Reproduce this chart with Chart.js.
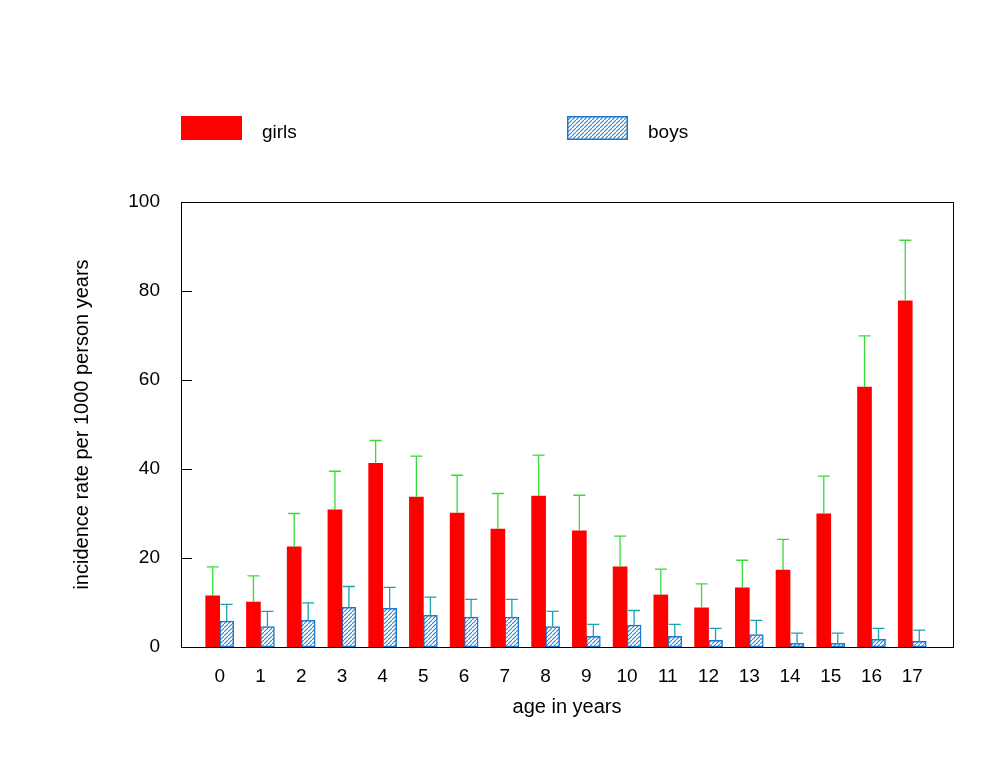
<!DOCTYPE html>
<html>
<head>
<meta charset="utf-8">
<script src="https://cdn.jsdelivr.net/npm/chart.js@4/dist/chart.umd.min.js"></script>
<style>
    html, body { margin: 0; padding: 0; background: #ffffff; }
    #wrap { width: 997px; height: 768px; }
</style>
</head>
<body>
<div id="wrap"><canvas id="js-incidence-chart" width="997" height="768"></canvas></div>
<script>
// age categories and incidence rates (per 1000 person years)
var ages = [0, 1, 2, 3, 4, 5, 6, 7, 8, 9, 10, 11, 12, 13, 14, 15, 16, 17];
var girlsRate = [11.5, 10.1, 22.5, 30.8, 41.3, 33.7, 30.1, 26.5, 33.9, 26.1, 18.0, 11.7, 8.8, 13.3, 17.3, 29.9, 58.4, 77.8];
var girlsUpper = [18.0, 16.0, 30.0, 39.5, 46.4, 42.9, 38.6, 34.5, 43.1, 34.1, 24.9, 17.5, 14.2, 19.5, 24.2, 38.4, 69.9, 91.4];
var boysRate = [5.8, 4.6, 6.0, 8.9, 8.7, 7.1, 6.7, 6.7, 4.6, 2.4, 4.9, 2.4, 1.5, 2.8, 0.8, 0.8, 1.7, 1.3];
var boysUpper = [9.6, 8.0, 9.9, 13.6, 13.4, 11.2, 10.7, 10.7, 8.0, 5.1, 8.2, 5.1, 4.2, 6.0, 3.1, 3.1, 4.2, 3.8];
var yTicks = [0, 20, 40, 60, 80, 100];

var FONT = "'Liberation Sans', Arial, sans-serif";

// diagonal hatch for the boys bars
function makeHatch() {
    var c = document.createElement("canvas");
    c.width = 4;
    c.height = 4;
    var g = c.getContext("2d");
    g.fillStyle = "#ffffff";
    g.fillRect(0, 0, 4, 4);
    g.strokeStyle = "#2a84d6";
    g.lineWidth = 1.1;
    g.beginPath();
    g.moveTo(-1, 5);
    g.lineTo(5, -1);
    g.stroke();
    return g.createPattern(c, "repeat");
}
var hatch = makeHatch();

function toPoints(values) {
    return ages.map(function (a, i) { return { x: a, y: values[i] }; });
}

// upper error bars, frame, inside ticks and the legend
var extrasPlugin = {
    id: "extras",
    afterDatasetsDraw: function (chart) {
        var ctx = chart.ctx;
        var yScale = chart.scales.y;
        chart.data.datasets.forEach(function (ds, di) {
            var meta = chart.getDatasetMeta(di);
            ctx.save();
            ctx.strokeStyle = ds.errorColor;
            ctx.lineWidth = 1.3;
            meta.data.forEach(function (bar, i) {
                var yTop = yScale.getPixelForValue(ds.errorUpper[i]);
                ctx.beginPath();
                ctx.moveTo(bar.x, bar.y);
                ctx.lineTo(bar.x, yTop);
                ctx.moveTo(bar.x - 6, yTop);
                ctx.lineTo(bar.x + 6, yTop);
                ctx.stroke();
            });
            ctx.restore();
        });
    },
    afterDraw: function (chart) {
        var ctx = chart.ctx;
        var area = chart.chartArea;
        var yScale = chart.scales.y;
        ctx.save();
        ctx.strokeStyle = "#000000";
        ctx.lineWidth = 1;
        ctx.strokeRect(area.left + 0.5, area.top + 0.5, area.right - area.left, area.bottom - area.top);
        ctx.beginPath();
        yTicks.forEach(function (v) {
            var py = Math.round(yScale.getPixelForValue(v)) + 0.5;
            ctx.moveTo(area.left, py);
            ctx.lineTo(area.left + 11, py);
        });
        ctx.stroke();

        // legend
        var spots = [181, 567];
        ctx.font = "19px " + FONT;
        ctx.textBaseline = "middle";
        ctx.textAlign = "left";
        chart.data.datasets.forEach(function (ds, di) {
            var x = spots[di];
            ctx.fillStyle = ds.backgroundColor;
            ctx.fillRect(x, 116, 61, 24);
            if (ds.borderWidth) {
                ctx.strokeStyle = ds.borderColor;
                ctx.lineWidth = 1.5;
                ctx.strokeRect(x + 0.75, 116.75, 59.5, 22.5);
            }
            ctx.fillStyle = "#000000";
            ctx.fillText(ds.label, x + 81, 133);
        });
        ctx.restore();
    }
};

var chartCanvas = document.getElementById("js-incidence-chart");
var chart = new Chart(chartCanvas, {
    type: "bar",
    data: {
        datasets: [{
            label: "girls",
            data: toPoints(girlsRate),
            errorUpper: girlsUpper,
            errorColor: "#3ad93a",
            backgroundColor: "#ff0000",
            borderWidth: 0,
            barThickness: 14
        }, {
            label: "boys",
            data: toPoints(boysRate),
            errorUpper: boysUpper,
            errorColor: "#1aa3b3",
            backgroundColor: hatch,
            borderColor: "#1b78d0",
            borderWidth: 1.5,
            borderSkipped: false,
            barThickness: 14
        }]
    },
    options: {
        responsive: false,
        animation: false,
        layout: {
            padding: { left: 60, top: 202, right: 44, bottom: 0 }
        },
        plugins: {
            legend: { display: false },
            tooltip: { enabled: false }
        },
        scales: {
            x: {
                type: "linear",
                offset: false,
                min: -0.95,
                max: 18,
                afterBuildTicks: function (scale) {
                    scale.ticks = ages.map(function (a) { return { value: a }; });
                },
                afterFit: function (scale) { scale.height = 121; },
                grid: { display: false, drawTicks: false, offset: false },
                border: { display: false },
                ticks: {
                    padding: 18,
                    color: "#000000",
                    font: { family: FONT, size: 19 },
                    maxRotation: 0,
                    autoSkip: false
                },
                title: {
                    display: true,
                    text: "age in years",
                    color: "#000000",
                    font: { family: FONT, size: 20 },
                    padding: { top: 0, bottom: 49 }
                }
            },
            y: {
                min: 0,
                max: 100,
                afterBuildTicks: function (scale) {
                    scale.ticks = yTicks.map(function (v) { return { value: v }; });
                },
                afterFit: function (scale) { scale.width = 121; },
                grid: { display: false, drawTicks: false },
                border: { display: false },
                ticks: {
                    padding: 21,
                    color: "#000000",
                    font: { family: FONT, size: 19 }
                },
                title: {
                    display: true,
                    text: "incidence rate per 1000 person years",
                    color: "#000000",
                    font: { family: FONT, size: 20 },
                    padding: { top: 10, bottom: 0 }
                }
            }
        }
    },
    plugins: [extrasPlugin]
});
</script>
</body>
</html>
